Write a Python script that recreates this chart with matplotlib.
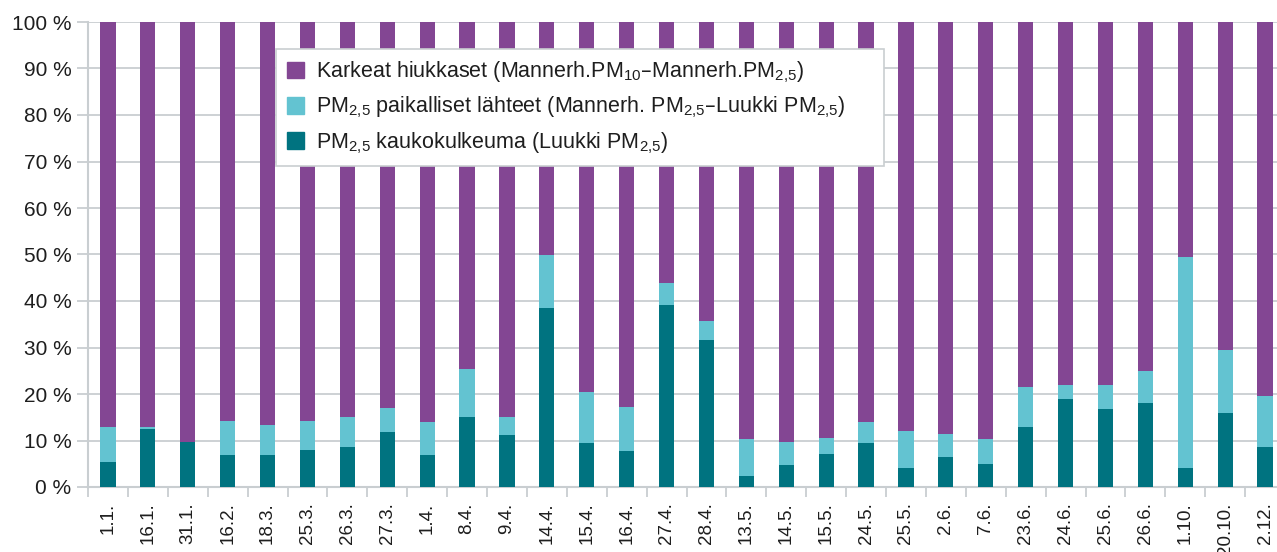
import numpy as np
import matplotlib
matplotlib.use("Agg")
import matplotlib.pyplot as plt
from matplotlib.patches import Patch

plt.rcParams['font.family'] = ['Liberation Sans', 'DejaVu Sans']
plt.rcParams['mathtext.default'] = 'regular'

dates = ['1.1.', '16.1.', '31.1.', '16.2.', '18.3.', '25.3.', '26.3.', '27.3.', '1.4.',
         '8.4.', '9.4.', '14.4.', '15.4.', '16.4.', '27.4.', '28.4.', '13.5.', '14.5.',
         '15.5.', '24.5.', '25.5.', '2.6.', '7.6.', '23.6.', '24.6.', '25.6.', '26.6.',
         '1.10.', '20.10.', '2.12.']

# PM2,5 kaukokulkeuma (%)
kauko = [5.4, 12.4, 9.7, 6.8, 6.8, 7.9, 8.6, 11.8, 6.8,
         15.1, 11.1, 38.4, 9.4, 7.7, 39.1, 31.6, 2.3, 4.7,
         7.0, 9.4, 4.0, 6.4, 4.9, 13.0, 18.9, 16.8, 18.0,
         4.0, 15.9, 8.5]
# kumulatiivinen osuus PM2,5 yhteensa (%)
pm25_total = [12.8, 12.8, 9.7, 14.2, 13.4, 14.2, 15.1, 16.9, 13.9,
              25.4, 15.1, 50.0, 20.4, 17.1, 43.8, 35.6, 10.3, 9.7,
              10.6, 13.9, 12.1, 11.5, 10.3, 21.6, 21.9, 21.9, 24.9,
              49.5, 29.5, 19.5]

kauko = np.array(kauko)
paikalliset = np.array(pm25_total) - kauko
karkeat = 100 - np.array(pm25_total)

c_purple = '#834693'
c_light = '#63C3D1'
c_teal = '#007380'
grid_c = '#C9CED1'
text_c = '#1E1E1E'

fig = plt.figure(figsize=(12.77, 5.52), dpi=100)
ax = fig.add_axes([88 / 1277, 65 / 552, (1285 - 88) / 1277, 465 / 552])

x = np.arange(len(dates))
w = 0.38
ax.bar(x, kauko, w, color=c_teal, zorder=3)
ax.bar(x, paikalliset, w, bottom=kauko, color=c_light, zorder=3)
ax.bar(x, karkeat, w, bottom=kauko + paikalliset, color=c_purple, zorder=3)

ax.set_xlim(-0.5, len(dates) - 0.5)
ax.set_ylim(0, 100)
ax.set_yticks(np.arange(0, 101, 10))
ax.set_yticklabels([f'{v} %' for v in range(0, 101, 10)], fontsize=15, color=text_c)
ax.yaxis.grid(True, color=grid_c, linewidth=1.3, zorder=0)
ax.tick_params(axis='y', length=8, width=1.3, color=grid_c, pad=4)

ax.set_xticks(x)
ax.set_xticklabels(dates, rotation=90, fontsize=13.5, color=text_c, va='top')
ax.tick_params(axis='x', which='major', length=0, pad=11)
ax.set_xticks(np.arange(-0.5, len(dates), 1), minor=True)
ax.tick_params(axis='x', which='minor', length=7, width=1.3, color=grid_c)

for side in ['top', 'right']:
    ax.spines[side].set_visible(False)
for side in ['left', 'bottom']:
    ax.spines[side].set_color(grid_c)
    ax.spines[side].set_linewidth(1.5)

handles = [Patch(color=c_purple), Patch(color=c_light), Patch(color=c_teal)]
labels = ['Karkeat hiukkaset (Mannerh.PM$_{10}$–Mannerh.PM$_{2{,}5}$)',
          'PM$_{2{,}5}$ paikalliset lähteet (Mannerh. PM$_{2{,}5}$–Luukki PM$_{2{,}5}$)',
          'PM$_{2{,}5}$ kaukokulkeuma (Luukki PM$_{2{,}5}$)']
leg = fig.legend(handles, labels, loc='upper left',
                 bbox_to_anchor=(276 / 1277, 1 - 158 / 552, 608 / 1277, 109 / 552),
                 mode='expand', fontsize=15.5, frameon=True, fancybox=False, framealpha=1.0,
                 borderpad=0.5, labelspacing=0.45, handlelength=0.8, handleheight=0.8,
                 handletextpad=0.55, borderaxespad=0)
leg.get_frame().set_edgecolor(grid_c)
leg.get_frame().set_linewidth(1.2)
leg.set_zorder(10)
for t in leg.get_texts():
    t.set_color(text_c)

fig.savefig('out.png', dpi=100)
